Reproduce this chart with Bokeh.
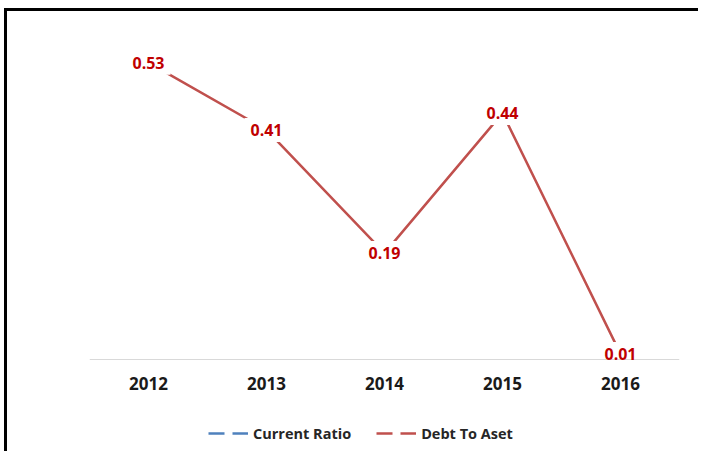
from bokeh.plotting import figure
from bokeh.models import ColumnDataSource, LabelSet, Legend, LegendItem, FactorRange, Range1d, Span
from bokeh.core.properties import value
from bokeh.embed import file_html
from bokeh.resources import INLINE

years = ["2012", "2013", "2014", "2015", "2016"]
debt_to_aset = [0.53, 0.41, 0.19, 0.44, 0.01]
debt_labels = ["0.53", "0.41", "0.19", "0.44", "0.01"]
current_ratio = [None, None, None, None, None]  # series not visible in the chart
series_names = ["Current Ratio", "Debt To Aset"]

src = ColumnDataSource(dict(x=years, y=debt_to_aset, lab=debt_labels))
nan_y = [float("nan") if v is None else v for v in current_ratio]
cr_src = ColumnDataSource(dict(x=years, y=nan_y))
leg_src = ColumnDataSource(dict(x=years, y=[float("nan")] * len(years)))
tick_src = ColumnDataSource(dict(x=years, y=[0] * len(years), t=years))

p = figure(x_range=FactorRange(*years, range_padding=0), y_range=Range1d(-0.1696, 0.6),
           width=694, height=443, output_backend="svg", toolbar_location=None,
           x_axis_location=None, y_axis_location=None,
           min_border_left=82, min_border_right=22, min_border_top=12, min_border_bottom=0)
p.styles = {"border-top": "3px solid black", "border-left": "3px solid black",
            "margin-left": "4px", "margin-top": "8px"}
p.outline_line_color = None
p.grid.visible = False
p.background_fill_color = "white"
p.border_fill_color = "white"

# category baseline
p.add_layout(Span(location=0, dimension="width", line_color="#D9D9D9", line_width=1))

# category labels
p.text("x", "y", text="t", source=tick_src, y_offset=24, text_align="center",
       text_baseline="middle", text_font=value("Open Sans"), text_font_style="bold",
       text_font_size="17px", text_color="#1a1a1a")

r_cr = p.line("x", "y", source=cr_src, line_color="#4F81BD", line_width=2.5, line_dash="16 8")
r_d = p.line("x", "y", source=src, line_color="#C0504D", line_width=2.5)
r_d_leg = p.line("x", "y", source=leg_src, line_color="#C0504D", line_width=2.5, line_dash="16 8")
p.rect("x", "y", source=src, width=44, height=24, width_units="screen",
       height_units="screen", fill_color="white", line_color=None)

labels = LabelSet(x="x", y="y", text="lab", source=src, text_align="center",
                  text_baseline="middle", text_color="#C00000", text_font_style="bold",
                  text_font=value("Open Sans"), text_font_size="16px")
p.add_layout(labels)

legend = Legend(items=[LegendItem(label=series_names[0], renderers=[r_cr]),
                       LegendItem(label=series_names[1], renderers=[r_d_leg])],
                orientation="horizontal", location=(119, 11),
                label_text_font="Open Sans", label_text_font_style="bold",
                label_text_font_size="14.5px", label_text_color="#262626",
                glyph_width=40, label_standoff=5, spacing=25, border_line_color=None,
                background_fill_alpha=0, margin=0, padding=4)
p.add_layout(legend)

open("out.html", "w").write(file_html(p, INLINE))
